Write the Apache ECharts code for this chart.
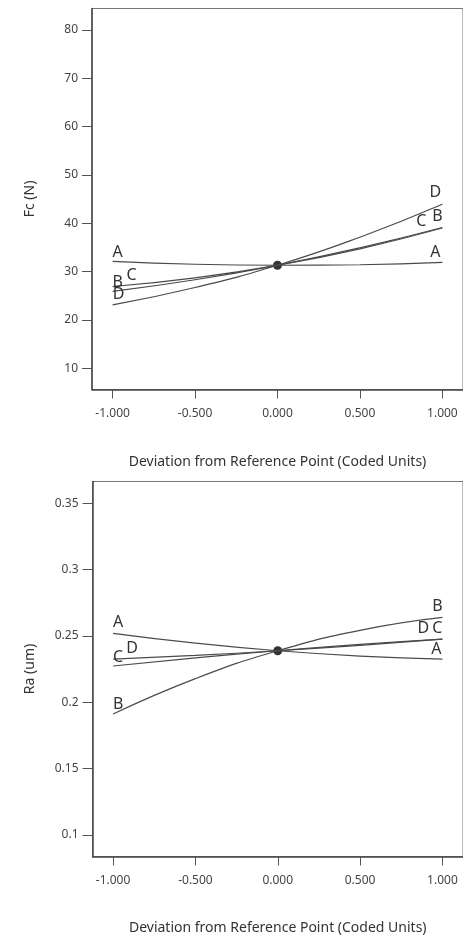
<!DOCTYPE html>
<html>
<head>
<meta charset="utf-8">
<script src="https://cdn.jsdelivr.net/npm/echarts@6/dist/echarts.min.js"></script>
<style>
html, body { margin: 0; padding: 0; background: #fff; }
#chart { width: 463px; height: 940px; }
</style>
</head>
<body>
<div id="chart"></div>
<script>
// coded deviation from reference point
const xs = [-1, -0.5, 0, 0.5, 1];
const xTicks = [-1, -0.5, 0, 0.5, 1];

// Fc (N)
const fcA = [32.1, 31.5, 31.3, 31.4, 31.9];
const fcB = [25.9, 28.3, 31.3, 34.9, 39.1];
const fcC = [26.9, 28.7, 31.3, 34.7, 39.0];
const fcD = [23.1, 26.7, 31.3, 37.1, 43.9];
const fcRef = [0, 31.3];
const fcTicks = [10, 20, 30, 40, 50, 60, 70, 80];

// Ra (um)
const raA = [0.2519, 0.2445, 0.2388, 0.2348, 0.2325];
const raB = [0.1911, 0.2178, 0.2388, 0.2542, 0.2639];
const raC = [0.2273, 0.2334, 0.2388, 0.2436, 0.2476];
const raD = [0.2325, 0.2353, 0.2388, 0.2429, 0.2476];
const raRef = [0, 0.2388];
const raTicks = [0.1, 0.15, 0.2, 0.25, 0.3, 0.35];

const font = 'Noto Sans';
const lineColor = '#4a4a4a';

const myChart = echarts.init(document.getElementById('chart'));

// label offsets [left end, right end] relative to the curve ends
const fcLabelOffsets = {
    A: [[5, -9], [-7, -10]],
    B: [[5, -9], [-5, -11]],
    C: [[19, -11], [-21, -7]],
    D: [[6, -10], [-7, -12]]
};
const raLabelOffsets = {
    A: [[5, -11], [-6, -10]],
    B: [[5, -10], [-5, -11]],
    C: [[5, -9], [-5, -11]],
    D: [[19, -11], [-19, -11]]
};

function curve(name, ys, idx, offsets) {
    return {
        name: name,
        type: 'line',
        xAxisIndex: idx,
        yAxisIndex: idx,
        smooth: true,
        symbol: 'circle',
        symbolSize: 0,
        showSymbol: true,
        silent: true,
        itemStyle: { color: 'rgba(0,0,0,0)' },
        lineStyle: { color: lineColor, width: 1.2 },
        data: xs.map((x, i) => {
            const item = { value: [x, ys[i]] };
            if (i === 0 || i === xs.length - 1) {
                item.label = {
                    show: true,
                    position: 'inside',
                    offset: offsets[name][i === 0 ? 0 : 1],
                    formatter: name,
                    fontFamily: font,
                    fontSize: 16,
                    color: '#333'
                };
            }
            return item;
        })
    };
}

function xAxisOpt(idx, nameGap) {
    return {
        type: 'value',
        gridIndex: idx,
        min: -1.125,
        max: 1.125,
        name: 'Deviation from Reference Point (Coded Units)',
        nameLocation: 'middle',
        nameGap: nameGap,
        nameTextStyle: { fontFamily: font, fontSize: 14, color: '#333' },
        axisLine: { show: true, onZero: false, lineStyle: { color: '#444', width: 1.5 } },
        axisTick: { show: true, length: 9, customValues: xTicks, lineStyle: { color: '#555' } },
        axisLabel: {
            customValues: xTicks,
            margin: 18,
            fontFamily: font,
            fontSize: 12,
            color: '#444',
            formatter: v => v.toFixed(3)
        },
        splitLine: { show: false }
    };
}

function yAxisOpt(idx, name, min, max, ticks) {
    return {
        type: 'value',
        gridIndex: idx,
        min: min,
        max: max,
        name: name,
        nameLocation: 'middle',
        nameGap: 55,
        nameTextStyle: { fontFamily: font, fontSize: 14, color: '#333' },
        axisLine: { show: true, onZero: false, lineStyle: { color: '#444', width: 1.5 } },
        axisTick: { show: true, length: 10, customValues: ticks, lineStyle: { color: '#555' } },
        axisLabel: {
            customValues: ticks,
            margin: 14,
            fontFamily: font,
            fontSize: 12,
            color: '#444'
        },
        splitLine: { show: false }
    };
}

let option = {
    animation: false,
    backgroundColor: '#fff',
    graphic: [
        {
            type: 'text',
            left: 226,
            top: -14,
            style: { text: 'Perturbation', fontFamily: font, fontSize: 17, fill: '#aaa' }
        }
    ],
    grid: [
        { left: 92, right: -8, top: 8.5, bottom: 550.5, show: true, borderColor: '#777', borderWidth: 1 },
        { left: 92.5, right: -4.5, top: 481.5, bottom: 83.5, show: true, borderColor: '#777', borderWidth: 1 }
    ],
    xAxis: [xAxisOpt(0, 66), xAxisOpt(1, 65)],
    yAxis: [
        yAxisOpt(0, 'Fc (N)', 5.6, 84.4, fcTicks),
        yAxisOpt(1, 'Ra (um)', 0.0838, 0.3663, raTicks)
    ],
    series: [
        curve('A', fcA, 0, fcLabelOffsets),
        curve('B', fcB, 0, fcLabelOffsets),
        curve('C', fcC, 0, fcLabelOffsets),
        curve('D', fcD, 0, fcLabelOffsets),
        {
            type: 'scatter', xAxisIndex: 0, yAxisIndex: 0, symbolSize: 9,
            itemStyle: { color: '#000' }, data: [fcRef], silent: true
        },
        curve('A', raA, 1, raLabelOffsets),
        curve('B', raB, 1, raLabelOffsets),
        curve('C', raC, 1, raLabelOffsets),
        curve('D', raD, 1, raLabelOffsets),
        {
            type: 'scatter', xAxisIndex: 1, yAxisIndex: 1, symbolSize: 9,
            itemStyle: { color: '#000' }, data: [raRef], silent: true
        }
    ]
};

myChart.setOption(option);

window.addEventListener('resize', () => {
    myChart.resize();
});
</script>
</body>
</html>
